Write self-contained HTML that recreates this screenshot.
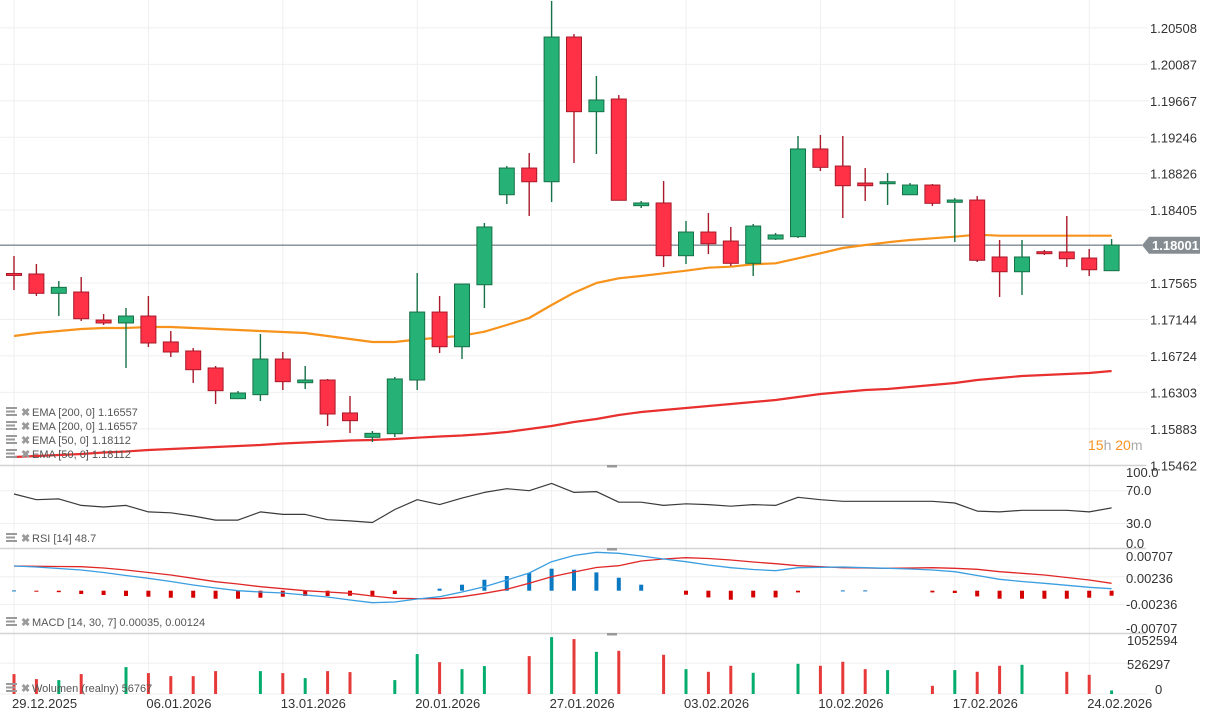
<!DOCTYPE html>
<html><head><meta charset="utf-8"><style>
html,body{margin:0;padding:0;background:#fff;width:1214px;height:720px;overflow:hidden}
svg{display:block;font-family:"Liberation Sans",sans-serif}
</style></head><body>
<svg id="chart" width="1214" height="720" viewBox="0 0 1214 720" xmlns="http://www.w3.org/2000/svg">
<rect width="1214" height="720" fill="#fff"/>
<g id="grid"></g><g id="series"></g><g id="axes"></g>
</svg>
<script>
const dates=["29.12.2025","06.01.2026","13.01.2026","20.01.2026","27.01.2026","03.02.2026","10.02.2026","17.02.2026","24.02.2026"];
const dateIdx=[0,6,12,18,24,30,36,42,48];
const priceTicks=[1.20508,1.20087,1.19667,1.19246,1.18826,1.18405,1.17565,1.17144,1.16724,1.16303,1.15883,1.15462];
const openP=[1.17675,1.17669,1.17446,1.17461,1.17138,1.17104,1.17184,1.16885,1.16781,1.16585,1.16231,1.16277,1.16688,1.16415,1.16446,1.16066,1.15785,1.15827,1.16446,1.17230,1.16830,1.17545,1.18583,1.18891,1.18733,1.20402,1.19541,1.19687,1.18457,1.18488,1.17880,1.18153,1.18049,1.17792,1.18072,1.18099,1.19111,1.18914,1.18718,1.18710,1.18583,1.18695,1.18496,1.18522,1.17865,1.17695,1.17926,1.17923,1.17853,1.17707];
const highP=[1.17876,1.17784,1.17588,1.17634,1.17207,1.17277,1.17415,1.17011,1.16815,1.16608,1.16319,1.16977,1.16769,1.16608,1.16458,1.16262,1.15858,1.16481,1.17680,1.17415,1.17553,1.18257,1.18914,1.19064,1.20818,1.20437,1.19953,1.19733,1.18511,1.18741,1.18280,1.18372,1.18211,1.18246,1.18142,1.19261,1.19272,1.19261,1.18891,1.18834,1.18718,1.18707,1.18545,1.18568,1.18061,1.18061,1.17946,1.18338,1.17957,1.18072];
const lowP=[1.17484,1.17415,1.17184,1.17127,1.17081,1.16585,1.16827,1.16711,1.16412,1.16169,1.16227,1.16204,1.16331,1.16342,1.15916,1.15835,1.15731,1.15789,1.16331,1.16758,1.16688,1.17277,1.18476,1.18338,1.18499,1.18949,1.19053,1.18519,1.18430,1.17750,1.17784,1.17899,1.17761,1.17646,1.18061,1.18084,1.18857,1.18315,1.18511,1.18465,1.18580,1.18453,1.18038,1.17807,1.17404,1.17427,1.17888,1.17750,1.17646,1.17707];
const closeP=[1.17652,1.17446,1.17515,1.17153,1.17104,1.17184,1.16873,1.16769,1.16565,1.16323,1.16296,1.16688,1.16427,1.16446,1.16054,1.15977,1.15831,1.16458,1.17230,1.16830,1.17553,1.18211,1.18891,1.18733,1.20402,1.19541,1.19676,1.18519,1.18488,1.17880,1.18153,1.18018,1.17792,1.18222,1.18119,1.19111,1.18899,1.18687,1.18687,1.18733,1.18695,1.18484,1.18522,1.17827,1.17695,1.17865,1.17903,1.17845,1.17718,1.18003];
const ema50=[1.16954,1.16988,1.17011,1.17034,1.17046,1.17046,1.17057,1.17057,1.17046,1.17034,1.17023,1.17011,1.17000,1.16988,1.16954,1.16919,1.16885,1.16885,1.16913,1.16934,1.16957,1.17003,1.17081,1.17161,1.17311,1.17453,1.17565,1.17619,1.17646,1.17677,1.17707,1.17741,1.17753,1.17781,1.17792,1.17850,1.17908,1.17969,1.18003,1.18034,1.18061,1.18081,1.18099,1.18122,1.18111,1.18111,1.18111,1.18111,1.18111,1.18111];
const ema200=[1.15558,1.15570,1.15581,1.15593,1.15610,1.15622,1.15639,1.15650,1.15662,1.15673,1.15685,1.15696,1.15714,1.15725,1.15737,1.15748,1.15754,1.15766,1.15781,1.15795,1.15806,1.15823,1.15846,1.15881,1.15916,1.15962,1.15996,1.16043,1.16077,1.16100,1.16123,1.16146,1.16169,1.16192,1.16216,1.16250,1.16285,1.16308,1.16331,1.16342,1.16365,1.16389,1.16412,1.16446,1.16469,1.16492,1.16504,1.16515,1.16527,1.16550];
const rsi=[66,59,60,52,50,52,44,43,39,34,34,44,41,41,34.5,33,31,47,59,53,61,68,72.5,70,79,68,69,56,56,52,54,53,51,53,52,62,59,57,57,57,57,57,55,45,44,46,46,46,44,49];
const rsiTicks=[100,70,30,0];
const macdLine=[0.00419,0.00402,0.00376,0.00351,0.00308,0.00258,0.00210,0.00156,0.00097,0.00046,0,-0.00022,-0.00039,-0.00073,-0.00107,-0.00158,-0.00203,-0.00192,-0.00141,-0.00102,-0.00022,0.00068,0.00181,0.00300,0.00492,0.00597,0.00651,0.00634,0.00588,0.00537,0.00492,0.00436,0.00390,0.00359,0.00339,0.00390,0.00397,0.00402,0.00390,0.00380,0.00368,0.00351,0.00322,0.00258,0.00193,0.00156,0.00125,0.00092,0.00058,0.00034];
const signalLine=[0.00419,0.00414,0.00410,0.00407,0.00385,0.00351,0.00308,0.00266,0.00210,0.00153,0.00114,0.00068,0.00034,0,-0.00022,-0.00044,-0.00090,-0.00129,-0.00136,-0.00136,-0.00102,-0.00044,0.00024,0.00125,0.00237,0.00317,0.00393,0.00424,0.00503,0.00537,0.00559,0.00546,0.00520,0.00486,0.00458,0.00424,0.00407,0.00390,0.00385,0.00380,0.00385,0.00390,0.00380,0.00363,0.00322,0.00295,0.00266,0.00224,0.00181,0.00125];
const macdHist=[0.00005,-0.00008,-0.00025,-0.00056,-0.00073,-0.0009,-0.00102,-0.00119,-0.00119,-0.00136,-0.00136,-0.00119,-0.00102,-0.0009,-0.0009,-0.00085,-0.00102,-0.00056,0,0.00034,0.00102,0.00186,0.00249,0.003,0.00373,0.00356,0.0031,0.0022,0.00102,0,-0.00068,-0.00114,-0.00153,-0.00114,-0.00114,-0.00029,0,0.00005,0.00005,0,0,-0.00029,-0.00039,-0.00097,-0.00136,-0.00136,-0.00136,-0.00136,-0.00119,-0.00085];
const macdTicks=["0.00707","0.00236","-0.00236","-0.00707"];
const volume=[338000,252000,235000,338000,0,458000,355000,303000,303000,389000,0,389000,355000,269000,389000,372000,0,235000,681000,543000,423000,475000,0,646000,972000,938000,720000,737000,0,669000,423000,377000,480000,360000,0,514000,480000,549000,423000,406000,0,137000,406000,377000,480000,497000,0,377000,326000,56767];
const volTicks=[1052594,526297,0];
const lastPrice=1.18001;

const NS="http://www.w3.org/2000/svg";
const gG=document.getElementById('grid'),gS=document.getElementById('series'),gA=document.getElementById('axes');
function mk(tag,attrs,parent){const e=document.createElementNS(NS,tag);for(const k in attrs)e.setAttribute(k,attrs[k]);parent.appendChild(e);return e;}
const xI=i=>14+i*22.4;
const yP=p=>283-(p-1.17565)*8670;
const yR=v=>547.8-v*0.815;
const yM=v=>590.7-v*5900;
const yV=v=>693.8-v*30.7/526297;
const GRID="#efefef";

// grids
dateIdx.forEach((di,k)=>{
  const l=mk('line',{x1:xI(di),x2:xI(di),y1:0,y2:694,stroke:GRID,'stroke-width':1},gG);
  
  
});
priceTicks.forEach(p=>{
  const l=mk('line',{x1:0,x2:1148,y1:yP(p),y2:yP(p),stroke:GRID,'stroke-width':1},gG);
  
  
});
[70,30].forEach(v=>{const l=mk('line',{x1:0,x2:1148,y1:yR(v),y2:yR(v),stroke:GRID},gG);
  });
[0.00236,-0.00236].forEach(v=>{const l=mk('line',{x1:0,x2:1148,y1:yM(v),y2:yM(v),stroke:GRID},gG);
  });
{const l=mk('line',{x1:0,x2:1148,y1:yV(526297),y2:yV(526297),stroke:GRID},gG);
  
 const b=mk('line',{x1:0,x2:1148,y1:694,y2:694,stroke:GRID},gG);
  }
// separators
[465.5,548.5,633.5].forEach(y=>{
  const s=mk('line',{x1:0,x2:1146,y1:y,y2:y,stroke:'#d4d4d4','stroke-width':1.5},gG);
  
  
  const h=mk('rect',{x:607,y:y-0.5,width:10,height:2.5,fill:'#999'},gG);
  
  
});

// current price line
{const l=mk('line',{x1:0,x2:1142,y1:yP(lastPrice),y2:yP(lastPrice),stroke:'#7f8a90','stroke-width':1.3},gS);
 }

function polyline(arr,yf,color,w,name){
  const pts=arr.map((v,i)=>xI(i).toFixed(1)+','+yf(v).toFixed(1)).join(' ');
  const p=mk('polyline',{points:pts,fill:'none',stroke:color,'stroke-width':w,'stroke-linejoin':'round'},gS);
  
  
}
polyline(ema200,yP,'#e8302f',2.2,'ema-200-line');
polyline(ema50,yP,'#f7931a',2.2,'ema-50-line');

// candles
openP.forEach((o,i)=>{
  const c=closeP[i],up=c>=o;
  const fill=up?'#26b276':'#ff3146',bd=up?'#177147':'#a8192a';
  const x=xI(i);
  const w=mk('line',{x1:x,x2:x,y1:yP(highP[i]),y2:yP(lowP[i]),stroke:bd,'stroke-width':1.4},gS);
  
  
  const top=yP(Math.max(o,c)),bot=yP(Math.min(o,c));
  const r=mk('rect',{x:x-7.5,y:top,width:15,height:Math.max(1.5,bot-top),fill:fill,stroke:bd,'stroke-width':1},gS);
  
  
});

// RSI
polyline(rsi,yR,'#3a3a3a',1.2,'rsi-line');

// MACD histogram
macdHist.forEach((v,i)=>{
  if(v===0)return;
  const y0=yM(0),y1=yM(v);
  const r=mk('rect',{x:xI(i)-2,y:Math.min(y0,y1),width:4,height:Math.max(1,Math.abs(y1-y0)),fill:v>0?'#0b78c2':'#d40000'},gS);
  
  
});
polyline(signalLine,yM,'#e02828',1.3,'macd-signal-line');
polyline(macdLine,yM,'#3a9ee0',1.3,'macd-line');

// volume
volume.forEach((v,i)=>{
  if(v===0)return;
  const up=closeP[i]>=openP[i];
  const r=mk('rect',{x:xI(i)-1.5,y:yV(v),width:3,height:694-yV(v),fill:up?'#04ad6d':'#e63a3a'},gS);
  
  
});

// axis labels
function txt(s,x,y,attrs,name,inter){
  const t=mk('text',Object.assign({x:x,y:y,'font-size':13,fill:'#333'},attrs||{}),gA);
  t.textContent=s;
  
  
  return t;
}
priceTicks.forEach(p=>txt(p.toFixed(5),1150,yP(p)+5,{},'price-tick-label'));
rsiTicks.forEach(v=>txt(v.toFixed(1),1126,(v===100?472:v===70?490:v===30?523:543)+5,{},'rsi-tick-label'));
[556,578,604,628].forEach((y,k)=>txt(macdTicks[k],1126,y+5,{},'macd-tick-label'));
[640,664,689].forEach((y,k)=>txt(String(volTicks[k]),k===2?1155:1127,y+5,{},'volume-tick-label'));
dates.forEach((d,k)=>txt(d,xI(dateIdx[k])-2,708,{},'date-label'));

// current price tag
{const y=yP(lastPrice);
 const p=mk('polygon',{points:`1142,${y} 1149,${y-8.5} 1200,${y-8.5} 1200,${y+8.5} 1149,${y+8.5}`,fill:'#858d93'},gA);
 
 txt(lastPrice.toFixed(5),1152,y+5,{fill:'#fff','font-weight':'bold'},'current-price-value');}

// timer
{const t=mk('text',{x:1088,y:450,'font-size':14},gA);
 
 t.innerHTML='<tspan fill="#f7931e">15</tspan><tspan fill="#aaa">h </tspan><tspan fill="#f7931e">20</tspan><tspan fill="#aaa">m</tspan>';}

// legends
function legend(label,y,name){
  const g=mk('g',{},gA);
  
  
  const ic=mk('g',{fill:'#9a9a9a'},g);
  
  
  mk('rect',{x:6,y:y-9,width:11,height:2},ic);mk('rect',{x:6,y:y-5.5,width:9,height:2},ic);mk('rect',{x:6,y:y-2,width:11,height:2},ic);
  const x=mk('text',{x:21,y:y,'font-size':11,fill:'#9a9a9a','font-weight':'bold'},g);x.textContent='✖';
  
  
  const t=mk('text',{x:32,y:y,'font-size':11,fill:'#555'},g);t.textContent=label;
}
legend('EMA [200,  0]  1.16557',416,'legend-ema200');
legend('EMA [200,  0]  1.16557',430,'legend-ema200-duplicate');
legend('EMA [50,  0]  1.18112',444,'legend-ema50');
legend('EMA [50,  0]  1.18112',458,'legend-ema50-duplicate');
legend('RSI  [14]  48.7',542,'legend-rsi');
legend('MACD  [14,  30,  7]  0.00035,   0.00124',626,'legend-macd');
legend('Wolumen  (realny)  56767',692,'legend-volume');
</script>
</body></html>
